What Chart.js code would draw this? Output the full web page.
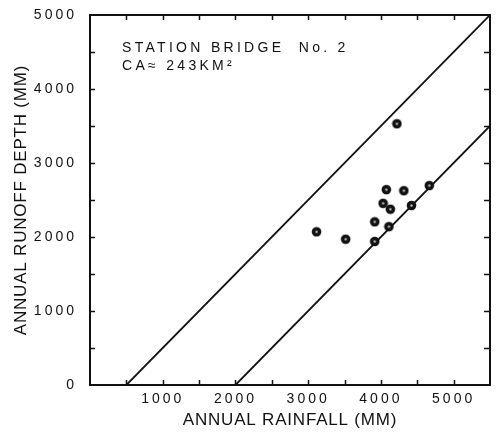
<!DOCTYPE html>
<html>
<head>
<meta charset="utf-8">
<script src="https://cdn.jsdelivr.net/npm/chart.js@4"></script>
<style>
  html, body { margin: 0; padding: 0; background: #fff; }
  #wrap { width: 496px; height: 432px; }
</style>
</head>
<body>
<div id="wrap"><canvas id="runoff-chart"></canvas></div>
<script>
// observed years: annual rainfall vs annual runoff depth (mm)
const rainfall = [4220, 3115, 3515, 3915, 3915, 4110, 4030, 4130, 4075, 4315, 4420, 4665];
const runoff   = [3530, 2070, 1970, 1940, 2205, 2140, 2455, 2375, 2640, 2625, 2425, 2695];

// envelope lines (runoff = rainfall - 500 and runoff = rainfall - 2000)
const upperRain = [500, 5500];
const upperRunoff = [0, 5000];
const lowerRain = [2000, 5500];
const lowerRunoff = [0, 3500];

// labelled ticks
const xTickValues = [1000, 2000, 3000, 4000, 5000];
const yTickValues = [0, 1000, 2000, 3000, 4000, 5000];

const noteLines = ['STATION BRIDGE  No. 2', 'CA\u2248 243KM\u00B2'];

const ink = '#111';
const minorStep = 500;

Chart.defaults.font.family = '"Liberation Sans", Arial, sans-serif';
Chart.defaults.color = ink;

const toPoints = (xs, ys) => xs.map((x, i) => ({ x: x, y: ys[i] }));

// little black dot with a pale centre, like the hand-plotted marks
function makeMarker() {
    const c = document.createElement('canvas');
    c.width = 11;
    c.height = 11;
    const g = c.getContext('2d');
    g.fillStyle = ink;
    g.beginPath();
    g.arc(5.5, 5.5, 4.8, 0, Math.PI * 2);
    g.fill();
    g.fillStyle = '#bbb';
    g.beginPath();
    g.arc(5.5, 5.5, 1.2, 0, Math.PI * 2);
    g.fill();
    return c;
}

// wide lettering: spaced tick labels, slightly spaced titles
const lettering = {
    id: 'lettering',
    beforeDraw(chart) {
        chart.ctx.letterSpacing = '3px';
        Object.values(chart.scales).forEach(scale => {
            const base = Object.getPrototypeOf(scale).drawTitle;
            if (scale.drawTitle !== base) return;
            scale.drawTitle = function () {
                const prev = this.ctx.letterSpacing;
                this.ctx.letterSpacing = '0.8px';
                base.call(this);
                this.ctx.letterSpacing = prev;
            };
        });
    }
};

// box round the plot with inward ticks every 500 mm on all four sides
const frameTicks = {
    id: 'frameTicks',
    beforeDatasetsDraw(chart) {
        const { ctx, chartArea: a, scales: { x, y } } = chart;
        ctx.save();
        ctx.strokeStyle = ink;
        ctx.lineWidth = 2;
        ctx.strokeRect(a.left, a.top, a.right - a.left, a.bottom - a.top);
        ctx.lineWidth = 1.5;
        ctx.beginPath();
        for (let v = minorStep; v < x.max; v += minorStep) {
            const px = Math.round(x.getPixelForValue(v)) + 0.5;
            ctx.moveTo(px, a.bottom);
            ctx.lineTo(px, a.bottom - 5);
            ctx.moveTo(px, a.top);
            ctx.lineTo(px, a.top + 5);
        }
        for (let v = minorStep; v < y.max; v += minorStep) {
            const py = Math.round(y.getPixelForValue(v)) + 0.5;
            ctx.moveTo(a.left, py);
            ctx.lineTo(a.left + 5, py);
            ctx.moveTo(a.right, py);
            ctx.lineTo(a.right - 6, py);
        }
        ctx.stroke();
        ctx.restore();
    }
};

const stationNote = {
    id: 'stationNote',
    afterDraw(chart) {
        const { ctx, chartArea: a } = chart;
        ctx.save();
        ctx.font = '14px "Liberation Sans", Arial, sans-serif';
        ctx.letterSpacing = '3.3px';
        ctx.fillStyle = ink;
        ctx.textBaseline = 'alphabetic';
        noteLines.forEach((line, i) => {
            ctx.fillText(line, a.left + 32, a.top + 37 + i * 17.5);
        });
        ctx.restore();
    }
};

const ctx = document.getElementById('runoff-chart').getContext('2d');

new Chart(ctx, {
    type: 'scatter',
    data: {
        datasets: [{
            label: 'Observed',
            data: toPoints(rainfall, runoff),
            pointStyle: makeMarker(),
            pointRadius: 5,
            order: 0
        }, {
            label: 'Upper envelope',
            data: toPoints(upperRain, upperRunoff),
            showLine: true,
            borderColor: ink,
            borderWidth: 1.8,
            pointRadius: 0,
            order: 1
        }, {
            label: 'Lower envelope',
            data: toPoints(lowerRain, lowerRunoff),
            showLine: true,
            borderColor: ink,
            borderWidth: 1.8,
            pointRadius: 0,
            order: 1
        }]
    },
    options: {
        responsive: true,
        maintainAspectRatio: false,
        animation: false,
        layout: {
            padding: { top: 15, right: 3, bottom: 0, left: 0 }
        },
        plugins: {
            legend: { display: false },
            tooltip: { enabled: false }
        },
        scales: {
            x: {
                min: 0,
                max: 5500,
                grid: { display: false, drawTicks: false },
                border: { display: false },
                afterBuildTicks: (scale) => {
                    scale.ticks = xTickValues.map(value => ({ value }));
                },
                afterFit: (scale) => { scale.height = 47; },
                ticks: {
                    callback: (value) => String(value),
                    font: { size: 14 },
                    padding: 6,
                    maxRotation: 0
                },
                title: {
                    display: true,
                    text: 'ANNUAL RAINFALL (MM)',
                    font: { size: 17 },
                    padding: { top: 0, bottom: 1 }
                }
            },
            y: {
                min: 0,
                max: 5000,
                grid: { display: false },
                border: { display: false },
                afterBuildTicks: (scale) => {
                    scale.ticks = yTickValues.map(value => ({ value }));
                },
                afterFit: (scale) => { scale.width = 90; },
                ticks: {
                    callback: (value) => String(value),
                    font: { size: 14 },
                    padding: 5
                },
                title: {
                    display: true,
                    text: 'ANNUAL RUNOFF DEPTH (MM)',
                    font: { size: 17 },
                    padding: { top: 11, bottom: 0 }
                }
            }
        }
    },
    plugins: [lettering, frameTicks, stationNote]
});
</script>
</body>
</html>
